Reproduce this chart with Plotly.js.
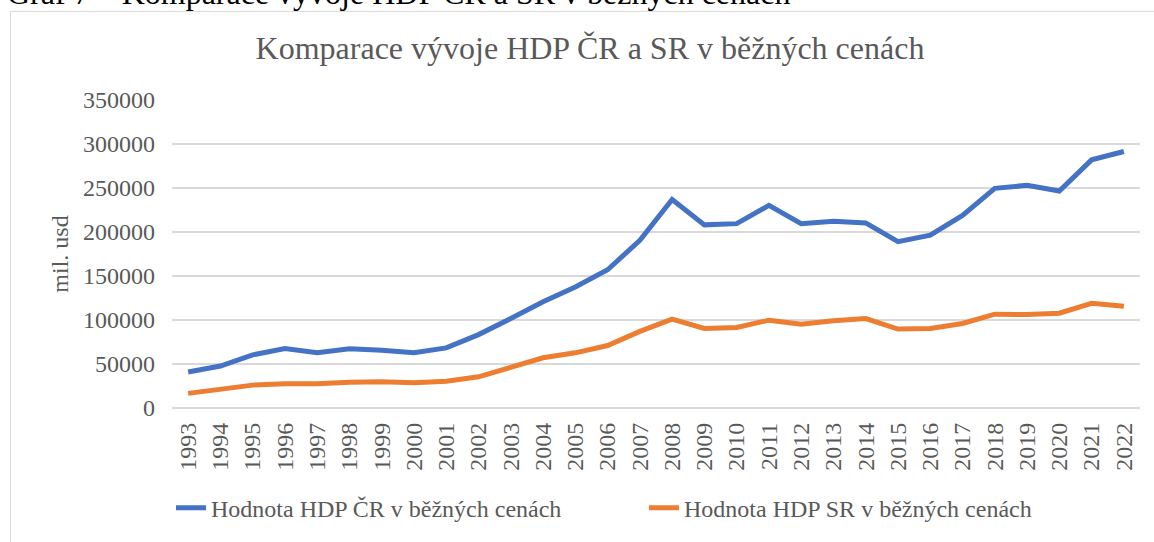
<!DOCTYPE html>
<html>
<head>
<meta charset="utf-8">
<script src="https://cdn.plot.ly/plotly-3.0.1.min.js"></script>
<style>
html,body{margin:0;padding:0;background:#fff;overflow:hidden;}
#chart{width:1154px;height:542px;}
</style>
</head>
<body>
<div id="chart"></div>
<script>
const years = ["1993","1994","1995","1996","1997","1998","1999","2000","2001","2002","2003","2004","2005","2006","2007","2008","2009","2010","2011","2012","2013","2014","2015","2016","2017","2018","2019","2020","2021","2022"];
const hdpCR = [41000,47700,60400,67600,62700,67200,65700,62700,68300,83400,101700,120800,137600,157100,190500,236900,208100,209500,230200,209500,212200,210300,189000,196500,218900,249600,253000,246500,282000,291500];
const hdpSR = [16600,21100,26000,27500,27500,29400,29800,28650,30500,35400,46600,57100,62700,71000,87100,100900,90450,91600,99800,95300,99100,101700,89700,90400,96100,106600,106200,107700,118900,115500];
const seriesNames = ["Hodnota HDP ČR v běžných cenách","Hodnota HDP SR v běžných cenách"];
const chartTitle = "Komparace vývoje HDP ČR a SR v běžných cenách";
const yTitle = "mil. usd";
const captionText = "Graf 7 – Komparace vývoje HDP ČR a SR v běžných cenách";

const W = 1154, H = 542;
const M = {l:172, r:14, t:100, b:131};
const pw = W - M.l - M.r, ph = H - M.t - M.b;
const px2x = p => (p - M.l) / pw;
const py2y = p => (H - M.b - p) / ph;

const FONT = 'Liberation Serif, Times New Roman, serif';
const GREY = '#595959';

const traces = [
  {x: years, y: hdpCR, name: seriesNames[0], type: 'scatter', mode: 'lines',
   line: {color: '#4472C4', width: 5, shape: 'linear'}},
  {x: years, y: hdpSR, name: seriesNames[1], type: 'scatter', mode: 'lines',
   line: {color: '#ED7D31', width: 5, shape: 'linear'}}
];

const layout = {
  width: W, height: H,
  margin: {l: M.l, r: M.r, t: M.t, b: M.b, pad: 0},
  paper_bgcolor: '#fff', plot_bgcolor: '#fff',
  font: {family: FONT, color: GREY, size: 24},
  title: {text: chartTitle, font: {family: FONT, size: 32, color: GREY},
          x: 590 / W, xanchor: 'center', xref: 'container',
          y: 1 - 48 / H, yanchor: 'middle', yref: 'container'},
  xaxis: {type: 'category', range: [-0.5, years.length - 0.5],
          tickangle: -90, showgrid: false, zeroline: false, showline: false,
          ticks: '', tickfont: {family: FONT, size: 24, color: GREY},
          ticklabelstandoff: 9, fixedrange: true},
  yaxis: {range: [0, 350000], dtick: 50000, tick0: 0, tickformat: 'd',
          showgrid: true, gridcolor: '#d9d9d9', gridwidth: 1.3,
          zeroline: true, zerolinecolor: '#d9d9d9', zerolinewidth: 1.3,
          showline: false, ticks: '', ticklabelstandoff: 16,
          tickfont: {family: FONT, size: 24, color: GREY},
          title: {text: yTitle, font: {family: FONT, size: 24, color: GREY}, standoff: 7},
          fixedrange: true},
  showlegend: true,
  legend: {orientation: 'h', x: px2x(171), xanchor: 'left',
           y: py2y(512), yanchor: 'middle',
           font: {family: FONT, size: 24, color: GREY},
           entrywidth: 428, entrywidthmode: 'pixels',
           bgcolor: 'rgba(0,0,0,0)', traceorder: 'normal'},
  shapes: [
    {type: 'rect', xref: 'paper', yref: 'paper', layer: 'below',
     x0: px2x(10.5), x1: px2x(1300), y0: py2y(700), y1: py2y(10.5),
     line: {color: '#d9d9d9', width: 1}, fillcolor: 'rgba(0,0,0,0)'}
  ],
  annotations: [
    {text: captionText, xref: 'paper', yref: 'paper', x: px2x(5), xanchor: 'left',
     y: py2y(12), yanchor: 'bottom', showarrow: false,
     font: {family: FONT, size: 32, color: '#000'}}
  ]
};

Plotly.newPlot('chart', traces, layout, {displayModeBar: false, staticPlot: true});
</script>
</body>
</html>
